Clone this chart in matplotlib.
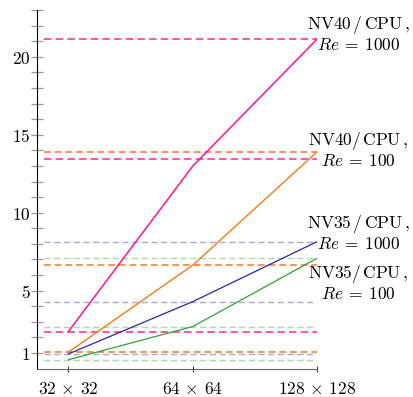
import matplotlib
matplotlib.use("Agg")
import matplotlib.pyplot as plt

plt.rcParams['mathtext.fontset'] = 'cm'

# grid sizes on the x axis
sizes = [r'$32\,\times\,32$', r'$64\,\times\,64$', r'$128\,\times\,128$']
xpos = [0, 1, 2]

# speed-up curves
nv40_re1000 = [2.38, 13.0, 21.15]
nv40_re100 = [1.06, 6.64, 13.92]
nv35_re1000 = [0.94, 4.3, 8.15]
nv35_re100 = [0.57, 2.7, 7.09]

# horizontal dashed reference levels
dash_nv40_re1000 = [21.15, 13.44, 2.38]
dash_nv40_re100 = [13.92, 6.66, 1.06]
dash_nv35_re1000 = [8.15, 4.3, 0.94]
dash_nv35_re100 = [7.09, 2.7, 0.57]

ytick_labels = {1: '$1$', 5: '$5$', 10: '$10$', 15: '$15$', 20: '$20$'}

fig = plt.figure(figsize=(4.14, 3.97), dpi=100)
ax = fig.add_axes([0.0901, 0.0715, 0.6764, 0.9033])

# dashed levels first (behind the curves)
for vals, col, lw in [(dash_nv35_re100, '#a8dca8', 1.0),
                      (dash_nv35_re1000, '#a8a8e4', 1.0),
                      (dash_nv40_re100, '#ee7a30', 1.1),
                      (dash_nv40_re1000, '#ff3aa0', 1.2)]:
    for v in vals:
        ax.plot([-0.2, 2.0], [v, v], color=col, lw=lw, dashes=(4.5, 2.5))

ax.plot(xpos, nv35_re100, color='#33a033', lw=0.9)
ax.plot(xpos, nv35_re1000, color='#2626a8', lw=0.9)
ax.plot(xpos, nv40_re100, color='#f57a1a', lw=1.0)
ax.plot(xpos, nv40_re1000, color='#ff1493', lw=1.1)

labels = [
    (21.47, r'$\mathrm{NV40\,/\,CPU\,,}$', r'$Re\:=\:1000$'),
    (14.03, r'$\mathrm{NV40/\,CPU\,,}$', r'$Re\:=\:100$'),
    (8.68, r'$\mathrm{NV35\,/\,CPU\,,}$', r'$Re\:=\:1000$'),
    (5.47, r'$\mathrm{NV35/\,CPU\,,}$', r'$Re\:=\:100$'),
]
for y, l1, l2 in labels:
    ax.text(2.33, y, l1 + '\n' + l2, ha='center', va='center', multialignment='center',
            linespacing=1.0, fontsize=12.5, clip_on=False)

ax.set_xlim(-0.25, 2.0)
ax.set_ylim(0, 23)
ax.set_xticks(xpos)
ax.set_xticklabels(sizes, fontsize=12.5)
ax.set_yticks(range(1, 24))
ax.set_yticklabels([ytick_labels.get(i, '') for i in range(1, 24)], fontsize=12.5)

ax.tick_params(axis='y', direction='inout', length=8, width=0.9, color='#9a9a9a', pad=1)
ax.tick_params(axis='x', direction='inout', length=4, width=0.8, color='#444444', pad=6)

ax.spines['top'].set_visible(False)
ax.spines['right'].set_visible(False)
ax.spines['left'].set_color('black')
ax.spines['bottom'].set_color('#666666')

fig.savefig('out.png', dpi=100)
